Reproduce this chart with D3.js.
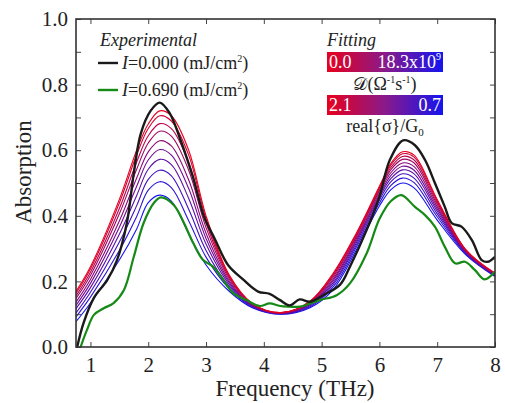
<!DOCTYPE html>
<html>
<head>
<meta charset="utf-8">
<script src="https://cdn.jsdelivr.net/npm/d3@7"></script>
<style>
  body { margin: 0; background: #fff; }
  svg text { font-family: "Liberation Serif", "Times New Roman", Tinos, "DejaVu Serif", "Noto Serif", serif; fill: #222; }
</style>
</head>
<body>
<div id="chart"></div>
<script>
// experimental spectra (frequency THz, absorption)
var expFreq = [0.77, 0.88, 1.06, 1.29, 1.46, 1.63, 1.75, 1.87, 2.04, 2.2, 2.37, 2.55, 2.77, 2.97, 3.15, 3.38, 3.64, 3.9, 4.1, 4.28, 4.45, 4.62, 4.8, 5.03, 5.32, 5.49, 5.78, 6.0, 6.18, 6.41, 6.61, 6.79, 6.96, 7.13, 7.25, 7.42, 7.6, 7.77, 7.88, 8.0];
var expDark = [0.0, 0.073, 0.15, 0.204, 0.265, 0.378, 0.53, 0.65, 0.72, 0.745, 0.713, 0.635, 0.52, 0.395, 0.33, 0.25, 0.206, 0.169, 0.162, 0.143, 0.127, 0.145, 0.138, 0.158, 0.19, 0.245, 0.357, 0.458, 0.57, 0.63, 0.616, 0.57, 0.5, 0.428, 0.378, 0.367, 0.326, 0.265, 0.26, 0.275];

var pumpFreq = [0.83, 0.94, 1.06, 1.23, 1.4, 1.58, 1.75, 1.92, 2.1, 2.22, 2.44, 2.6, 2.78, 2.95, 3.12, 3.3, 3.47, 3.7, 3.93, 4.1, 4.28, 4.45, 4.62, 4.97, 5.26, 5.49, 5.78, 6.0, 6.2, 6.38, 6.61, 6.79, 6.96, 7.13, 7.31, 7.48, 7.65, 7.82, 8.0];
var expPump = [0.0, 0.052, 0.098, 0.118, 0.134, 0.174, 0.275, 0.378, 0.44, 0.456, 0.433, 0.385, 0.316, 0.265, 0.245, 0.204, 0.164, 0.143, 0.125, 0.133, 0.125, 0.123, 0.123, 0.143, 0.158, 0.194, 0.286, 0.39, 0.445, 0.463, 0.428, 0.402, 0.367, 0.306, 0.255, 0.26, 0.235, 0.206, 0.23];

// fitted curves, D from 0.0 (red) to 18.3e9 (blue)
var fitFreq = [0.75, 1.0, 1.5, 1.8, 2.0, 2.2, 2.4, 2.7, 3.0, 3.4, 3.8, 4.3, 4.8, 5.2, 5.6, 6.0, 6.2, 6.4, 6.6, 7.0, 7.5, 8.0];
var fit0 = [0.170, 0.245, 0.450, 0.600, 0.680, 0.720, 0.705, 0.600, 0.400, 0.220, 0.133, 0.105, 0.140, 0.225, 0.347, 0.490, 0.560, 0.595, 0.585, 0.450, 0.296, 0.225];
var fit1 = [0.164, 0.238, 0.439, 0.586, 0.666, 0.705, 0.689, 0.585, 0.391, 0.217, 0.132, 0.105, 0.139, 0.222, 0.344, 0.486, 0.555, 0.589, 0.579, 0.446, 0.295, 0.224];
var fit2 = [0.156, 0.228, 0.422, 0.564, 0.644, 0.681, 0.666, 0.562, 0.378, 0.213, 0.131, 0.104, 0.137, 0.218, 0.339, 0.481, 0.548, 0.581, 0.570, 0.441, 0.294, 0.224];
var fit3 = [0.148, 0.218, 0.406, 0.542, 0.622, 0.658, 0.643, 0.539, 0.364, 0.208, 0.130, 0.104, 0.135, 0.213, 0.335, 0.476, 0.541, 0.572, 0.561, 0.435, 0.292, 0.223];
var fit4 = [0.137, 0.206, 0.384, 0.515, 0.595, 0.629, 0.613, 0.509, 0.347, 0.202, 0.128, 0.103, 0.133, 0.207, 0.329, 0.469, 0.532, 0.561, 0.550, 0.428, 0.290, 0.221];
var fit5 = [0.127, 0.194, 0.365, 0.490, 0.570, 0.602, 0.585, 0.483, 0.331, 0.197, 0.127, 0.103, 0.131, 0.202, 0.324, 0.462, 0.523, 0.551, 0.539, 0.421, 0.289, 0.220];
var fit6 = [0.117, 0.181, 0.344, 0.462, 0.542, 0.572, 0.556, 0.453, 0.314, 0.191, 0.126, 0.102, 0.129, 0.196, 0.318, 0.456, 0.514, 0.540, 0.528, 0.414, 0.287, 0.219];
var fit7 = [0.104, 0.167, 0.320, 0.431, 0.511, 0.539, 0.522, 0.420, 0.294, 0.185, 0.124, 0.101, 0.126, 0.190, 0.311, 0.448, 0.504, 0.528, 0.515, 0.406, 0.285, 0.218];
var fit8 = [0.092, 0.152, 0.294, 0.398, 0.478, 0.504, 0.486, 0.385, 0.274, 0.178, 0.122, 0.101, 0.123, 0.183, 0.304, 0.439, 0.493, 0.515, 0.501, 0.397, 0.283, 0.217];
var fit9 = [0.077, 0.134, 0.265, 0.360, 0.440, 0.463, 0.445, 0.345, 0.250, 0.170, 0.120, 0.100, 0.120, 0.175, 0.296, 0.430, 0.480, 0.500, 0.485, 0.387, 0.280, 0.215];
var fits = [fit0, fit1, fit2, fit3, fit4, fit5, fit6, fit7, fit8, fit9];

var xTicks = [1, 2, 3, 4, 5, 6, 7, 8];
var yTicks = [0.0, 0.2, 0.4, 0.6, 0.8, 1.0];
var yMinor = [0.1, 0.3, 0.5, 0.7, 0.9];

var W = 505, H = 403;
var margin = { top: 19, right: 10, bottom: 56, left: 76 };
var width = W - margin.left - margin.right,
    height = H - margin.top - margin.bottom;

var red = "#e8001c", blue = "#1414f0";
var serif = "'Liberation Serif', 'Times New Roman', Tinos, 'DejaVu Serif', 'Noto Serif', serif";

var svg = d3.select("#chart").append("svg")
    .attr("width", W)
    .attr("height", H)
    .style("font-family", serif);

var g = svg.append("g")
    .attr("transform", "translate(" + margin.left + "," + margin.top + ")");

var x = d3.scaleLinear().domain([0.75, 8]).range([0, width]);
var y = d3.scaleLinear().domain([0, 1]).range([height, 0]);

g.append("clipPath").attr("id", "clip")
    .append("rect").attr("width", width).attr("height", height);

var plot = g.append("g").attr("clip-path", "url(#clip)");

function lineFor(xs) {
    return d3.line()
        .x(function (d, i) { return x(xs[i]); })
        .y(function (d) { return y(d); })
        .curve(d3.curveCatmullRom.alpha(0.5));
}

// fits, blue drawn first so red ends on top
var colorFit = d3.scaleLinear().domain([0, fits.length - 1]).range([red, blue]).interpolate(d3.interpolateRgb);
for (var k = fits.length - 1; k >= 0; k--) {
    plot.append("path")
        .attr("d", lineFor(fitFreq)(fits[k]))
        .attr("fill", "none")
        .attr("stroke", colorFit(k))
        .attr("stroke-width", 1.1);
}

plot.append("path")
    .attr("d", lineFor(pumpFreq)(expPump))
    .attr("fill", "none")
    .attr("stroke", "#168a16")
    .attr("stroke-width", 2.2);

plot.append("path")
    .attr("d", lineFor(expFreq)(expDark))
    .attr("fill", "none")
    .attr("stroke", "#1a1a1a")
    .attr("stroke-width", 2.4);

// axes, ticks inward
var tickLen = 5;
function noDomain(a) { a.select(".domain").remove(); a.attr("font-family", null); }
g.append("g")
    .attr("transform", "translate(0," + height + ")")
    .call(d3.axisBottom(x).tickValues(xTicks).tickSize(-tickLen).tickPadding(10).tickFormat(d3.format("d")))
    .call(noDomain);
g.append("g")
    .call(d3.axisTop(x).tickValues(xTicks).tickSize(-tickLen).tickFormat(""))
    .call(noDomain);
g.append("g")
    .call(d3.axisLeft(y).tickValues(yTicks).tickSize(-tickLen).tickPadding(8).tickFormat(d3.format(".1f")))
    .call(noDomain);
g.append("g")
    .call(d3.axisLeft(y).tickValues(yMinor).tickSize(-tickLen).tickFormat(""))
    .call(noDomain);
g.append("g")
    .attr("transform", "translate(" + width + ",0)")
    .call(d3.axisRight(y).tickValues(yTicks.concat(yMinor)).tickSize(-tickLen).tickFormat(""))
    .call(noDomain);

g.selectAll(".tick line").attr("stroke", "#444").attr("stroke-width", 1);
g.selectAll(".tick text").attr("font-size", 21).attr("fill", "#222");

g.append("rect")
    .attr("width", width).attr("height", height)
    .attr("fill", "none").attr("stroke", "#333").attr("stroke-width", 1.6);

svg.append("text")
    .attr("x", 295).attr("y", 396)
    .attr("text-anchor", "middle")
    .attr("font-size", 23)
    .text("Frequency (THz)");

svg.append("text")
    .attr("transform", "translate(31,172) rotate(-90)")
    .attr("text-anchor", "middle")
    .attr("font-size", 23)
    .text("Absorption");

// legend
var leg = svg.append("g");
leg.append("text").attr("x", 100).attr("y", 46).attr("font-size", 18)
    .attr("font-style", "italic").text("Experimental");

function legendRow(yy, color, val) {
    leg.append("line").attr("x1", 98).attr("x2", 118).attr("y1", yy).attr("y2", yy)
        .attr("stroke", color).attr("stroke-width", 2.4);
    var t = leg.append("text").attr("x", 122).attr("y", yy + 5.5).attr("font-size", 18);
    t.append("tspan").attr("font-style", "italic").text("I");
    t.append("tspan").text("=" + val + " (mJ/cm");
    t.append("tspan").attr("font-size", 10).attr("dy", -7).text("2");
    t.append("tspan").attr("dy", 7).text(")");
}
legendRow(63, "#1a1a1a", "0.000");
legendRow(90, "#168a16", "0.690");

// fitting colour bars
var bx = 327, bw = 116, bh = 20;
var grad = svg.append("defs").append("linearGradient").attr("id", "rb");
grad.append("stop").attr("offset", "0%").attr("stop-color", red);
grad.append("stop").attr("offset", "50%").attr("stop-color", "#8a1a8a");
grad.append("stop").attr("offset", "100%").attr("stop-color", blue);

svg.append("text").attr("x", 327).attr("y", 46).attr("font-size", 18)
    .attr("font-style", "italic").text("Fitting");

function colorBar(yy, left, right, sup) {
    svg.append("rect").attr("x", bx).attr("y", yy).attr("width", bw).attr("height", bh)
        .attr("fill", "url(#rb)");
    svg.append("text").attr("x", bx + 2).attr("y", yy + 16).attr("font-size", 18)
        .style("fill", "#fff").text(left);
    var t = svg.append("text").attr("x", bx + bw - 2).attr("y", yy + 16).attr("font-size", 18)
        .attr("text-anchor", "end").style("fill", "#fff");
    t.append("tspan").text(right);
    if (sup) t.append("tspan").attr("font-size", 10).attr("dy", -8).text(sup);
}
colorBar(52, "0.0", "18.3x10", "9");
colorBar(95, "2.1", "0.7", null);

var d1 = svg.append("text").attr("x", bx + bw / 2).attr("y", 90).attr("font-size", 18)
    .attr("text-anchor", "middle");
d1.append("tspan").text("\uD835\uDC9F(\u03A9");
d1.append("tspan").attr("font-size", 10).attr("dy", -7).text("-1");
d1.append("tspan").attr("dy", 7).text("s");
d1.append("tspan").attr("font-size", 10).attr("dy", -7).text("-1");
d1.append("tspan").attr("dy", 7).text(")");

var d2 = svg.append("text").attr("x", bx + bw / 2).attr("y", 132).attr("font-size", 18)
    .attr("text-anchor", "middle");
d2.append("tspan").text("real{\u03C3}/G");
d2.append("tspan").attr("font-size", 11).attr("dy", 4).text("0");
</script>
</body>
</html>
